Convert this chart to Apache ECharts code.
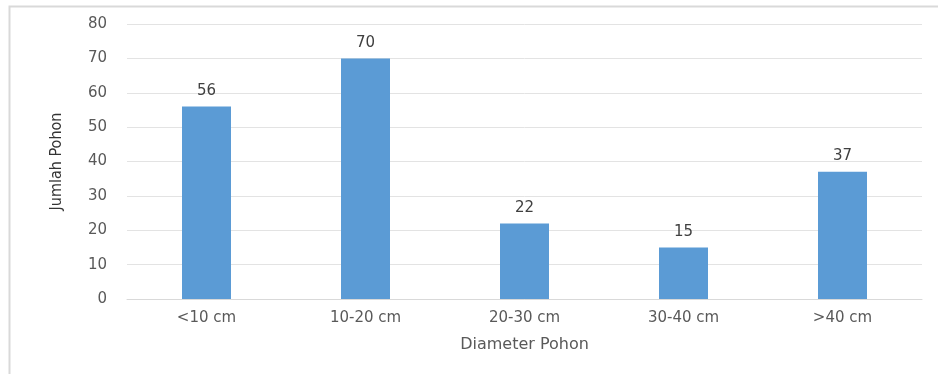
<!DOCTYPE html>
<html><head><meta charset="utf-8">
<script src="https://cdn.jsdelivr.net/npm/echarts@6/dist/echarts.min.js"></script>
<style>html,body{margin:0;padding:0;background:#fff}#c{width:938px;height:374px}</style>
</head><body><div id="c"></div>
<script>
const categories = ['<10 cm', '10-20 cm', '20-30 cm', '30-40 cm', '>40 cm'];
const values = [56, 70, 22, 15, 37];
const yTicks = {min: 0, max: 80, interval: 10};

const chart = echarts.init(document.getElementById('c'), null, {renderer: 'canvas'});
chart.setOption({
  animation: false,
  backgroundColor: '#fff',
  graphic: [{
    type: 'rect', left: 7, top: 4, shape: {width: 940, height: 380},
    style: {fill: 'none', stroke: '#d9d9d9', lineWidth: 2}
  }],
  grid: {left: 127, right: 16, top: 24, bottom: 75},
  xAxis: {
    type: 'category', data: categories,
    axisLine: {show: true, lineStyle: {color: '#d9d9d9'}},
    axisTick: {show: false},
    axisLabel: {color: '#595959', fontSize: 15, fontFamily: 'DejaVu Sans', margin: 12},
    name: 'Diameter Pohon', nameLocation: 'middle', nameGap: 38,
    nameTextStyle: {color: '#595959', fontSize: 16, fontFamily: 'DejaVu Sans'}
  },
  yAxis: {
    type: 'value', min: yTicks.min, max: yTicks.max, interval: yTicks.interval,
    axisLine: {show: false}, axisTick: {show: false},
    splitLine: {lineStyle: {color: '#e3e3e3'}},
    axisLabel: {color: '#595959', fontSize: 15, fontFamily: 'DejaVu Sans', margin: 20},
    name: 'Jumlah Pohon', nameLocation: 'middle', nameGap: 62,
    nameTextStyle: {color: '#333', fontSize: 16, fontFamily: "'DejaVu Sans Condensed', 'Liberation Sans Narrow', sans-serif"}
  },
  series: [{
    type: 'bar', data: values, barWidth: 49,
    itemStyle: {color: '#5b9bd5'},
    label: {show: true, position: 'top', distance: 8, color: '#404040', fontSize: 15, fontFamily: 'DejaVu Sans'}
  }]
});
</script></body></html>
